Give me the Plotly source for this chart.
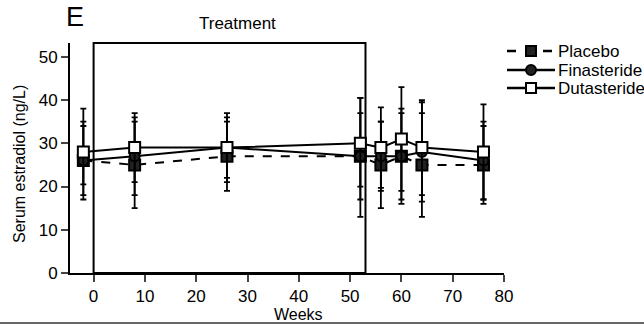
import plotly.graph_objects as go

weeks = [-2, 8, 26, 52, 56, 60, 64, 76]

placebo = [26, 25, 27, 27, 25, 27, 25, 25]
placebo_up = [8, 10, 8, 13.5, 10, 10, 12, 9]
placebo_dn = [5.5, 10, 8, 14, 10, 10, 12, 9]

finasteride = [26, 27, 29, 27, 27, 27, 28, 26]
finasteride_up = [9, 9, 7, 10, 8, 11, 11.5, 9]
finasteride_dn = [9, 9, 7, 10, 8, 11, 11.5, 9]

dutasteride = [28, 29, 29, 30, 29, 31, 29, 28]
dutasteride_up = [10, 8, 8, 10.5, 9.3, 12, 11, 11]
dutasteride_dn = [10, 8, 8, 10, 9.3, 12, 11, 11]

series_names = ["Placebo", "Finasteride", "Dutasteride"]
treatment_start, treatment_end = 0, 53

FONT = "Liberation Sans, Arial, sans-serif"

W, H = 644, 324
ML, MR, MT, MB = 70, 140, 43, 51
PW, PH = W - ML - MR, H - MT - MB


def px(xp):
    return (xp - ML) / PW


def py(yp):
    return (H - MB - yp) / PH


fig = go.Figure()

styles = [
    ("square", "#222", "dash", 11),
    ("circle", "#222", "solid", 10),
    ("square", "white", "solid", 11),
]
data = [
    (placebo, placebo_up, placebo_dn),
    (finasteride, finasteride_up, finasteride_dn),
    (dutasteride, dutasteride_up, dutasteride_dn),
]

for name, (y, up, dn), (sym, fill, dash, size) in zip(series_names, data, styles):
    fig.add_trace(go.Scatter(
        x=weeks, y=y, name=name, mode="lines+markers", showlegend=False,
        line=dict(color="black", width=2, dash=dash),
        marker=dict(symbol=sym, size=size, color=fill,
                    line=dict(color="black", width=2)),
        error_y=dict(type="data", symmetric=False, array=up, arrayminus=dn,
                     color="black", thickness=1.8, width=3),
    ))

fig.add_shape(type="rect", xref="x", yref="paper", x0=treatment_start, x1=treatment_end,
              y0=0, y1=1, line=dict(color="black", width=2), layer="below")

# manual legend
rows = [51, 70, 88]
for name, (sym, fill, dash, size), ry in zip(series_names, styles, rows):
    fig.add_shape(type="line", xref="paper", yref="paper",
                  x0=px(507), x1=px(555), y0=py(ry), y1=py(ry),
                  line=dict(color="black", width=2.5, dash="dash" if dash == "dash" else "solid"))
    h = 5
    fig.add_shape(type="rect" if sym == "square" else "circle", xref="paper", yref="paper",
                  x0=px(531 - h), x1=px(531 + h), y0=py(ry - h), y1=py(ry + h),
                  fillcolor=fill, line=dict(color="black", width=2))
    fig.add_annotation(text=name, xref="paper", yref="paper", x=px(556), y=py(ry),
                       xanchor="left", yanchor="middle", showarrow=False,
                       font=dict(family=FONT, size=17, color="black"))

fig.add_annotation(text="Treatment", xref="x", yref="paper", x=28, y=py(23),
                   yanchor="middle", showarrow=False,
                   font=dict(family=FONT, size=17, color="black"))
fig.add_annotation(text="E", xref="paper", yref="paper", x=px(64), y=py(17),
                   xanchor="left", yanchor="middle", showarrow=False,
                   font=dict(family=FONT, size=27, color="black"))
fig.add_annotation(text="Weeks", xref="x", yref="paper", x=40, y=py(314),
                   yanchor="middle", showarrow=False,
                   font=dict(family=FONT, size=16, color="black"))
fig.add_annotation(text="Serum estradiol (ng/L)", xref="paper", yref="paper",
                   x=px(19), y=py(164), textangle=-90,
                   xanchor="center", yanchor="middle", showarrow=False,
                   font=dict(family=FONT, size=16, color="black"))

# image bottom border
fig.add_shape(type="line", xref="paper", yref="paper", x0=px(0), x1=px(W),
              y0=py(323), y1=py(323), line=dict(color="#666", width=2))

fig.update_layout(
    width=W, height=H,
    margin=dict(l=ML, r=MR, t=MT, b=MB, autoexpand=False),
    paper_bgcolor="white", plot_bgcolor="white",
    font=dict(family=FONT, size=17, color="black"),
    showlegend=False,
    xaxis=dict(range=[-4.6, 80], tickvals=[0, 10, 20, 30, 40, 50, 60, 70, 80],
               showgrid=False, zeroline=False, showline=True, linecolor="black",
               linewidth=2, ticks="outside", ticklen=7, tickwidth=2,
               tickfont=dict(size=17), automargin=False),
    yaxis=dict(range=[0, 53.2], tickvals=[0, 10, 20, 30, 40, 50],
               showgrid=False, zeroline=False, showline=True, linecolor="black",
               linewidth=2, ticks="outside", ticklen=7, tickwidth=2,
               tickfont=dict(size=17), automargin=False),
)

fig.write_html("out.html")
